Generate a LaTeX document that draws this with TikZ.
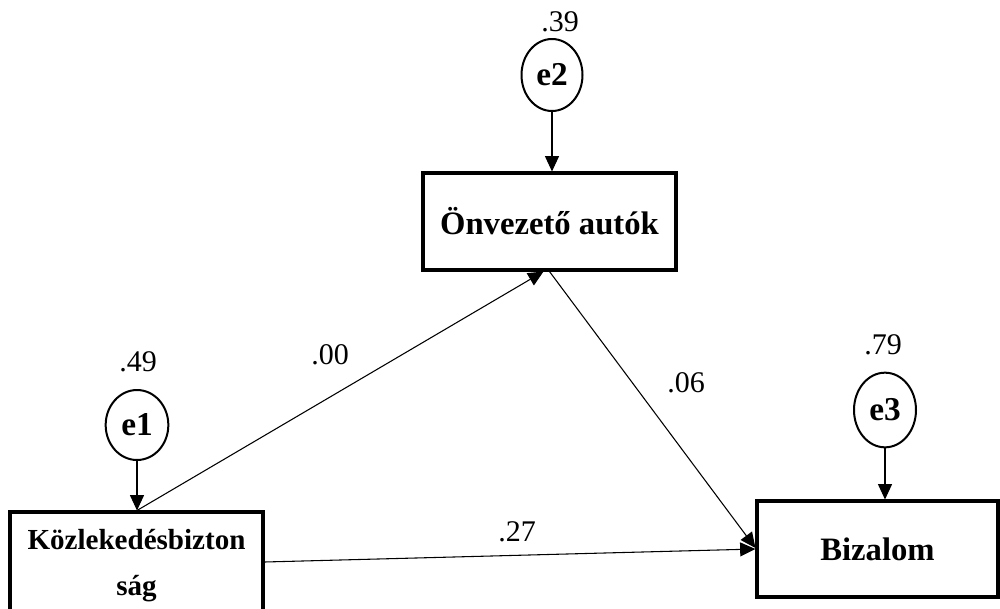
\documentclass[tikz,border=0pt]{standalone}
\usepackage{fontspec}
\setmainfont{Liberation Serif}
\usetikzlibrary{arrows.meta,shapes.geometric,calc}
\begin{document}
\begin{tikzpicture}[x=0.75pt,y=-0.75pt,
  box/.style={draw,line width=2.3pt,inner sep=0pt,align=center,
    font=\fontsize{24.5}{29}\selectfont\bfseries},
  err/.style={draw,ellipse,line width=1.5pt,inner sep=0pt,
    font=\fontsize{25}{29}\selectfont\bfseries},
  coef/.style={font=\fontsize{22.5}{26}\selectfont,inner sep=0pt},
  link/.style={line width=0.8pt,-{Triangle[length=11.5pt,width=10.5pt]}}
]
\useasboundingbox (0,0) rectangle (1000,608);

% observed variables
\node[box,minimum width=189.75pt,minimum height=72.75pt] (ov) at (549.5,221.5) {Önvezető autók};
\node[box,minimum width=189.75pt,minimum height=81pt,
  font=\fontsize{21.8}{34.5}\selectfont\bfseries] (k) at (136.5,566) {Közlekedésbizton\\ság};
\node[box,minimum width=180.75pt,minimum height=72pt] (bz) at (877.5,549) {Bizalom};

% error terms
\node[err,minimum width=45.75pt,minimum height=54pt] (e2) at (552,75) {e2};
\node[err,minimum width=47pt,minimum height=52.5pt] (e1) at (137,425) {e1};
\node[err,minimum width=46.5pt,minimum height=56pt] (e3) at (885,410) {e3};

% squared multiple correlations
\node[coef] (r2) at (560,22) {.39};
\node[coef] (r1) at (138,362) {.49};
\node[coef] (r3) at (883,345) {.79};

% error paths
\draw[link] (e2.south) -- (e2.south |- ov.north);
\draw[link] (e1.south) -- (e1.south |- k.north);
\draw[link] (e3.south) -- (e3.south |- bz.north);

% structural paths
\coordinate (kt) at (e1.south |- k.north);
\draw[link] (kt) -- ($(ov.south)+(-6,0)$);
\draw[link] (ov.south) -- ($(bz.west)+(0,-1)$);
\draw[link] ($(k.east)+(0,-4)$) -- (bz.west);

% path coefficients
\node[coef] (p1) at (330,355) {.00};
\node[coef] (p2) at (686,383) {.06};
\node[coef] (p3) at (517,532) {.27};
\end{tikzpicture}
\end{document}
